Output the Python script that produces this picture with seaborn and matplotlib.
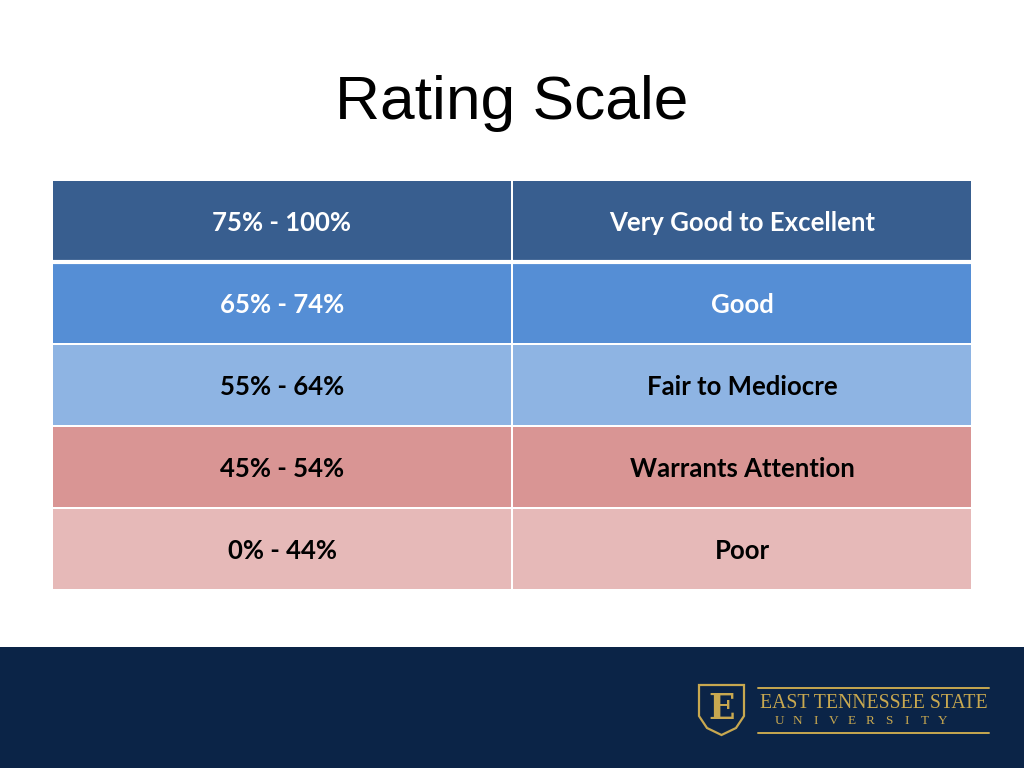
import matplotlib
matplotlib.use("Agg")

import matplotlib.pyplot as plt
import matplotlib.patches as mpatches
from matplotlib.colors import ListedColormap
import seaborn as sns
import numpy as np

# ---------------------------------------------------------------------------
# Data
# ---------------------------------------------------------------------------
title = "Rating Scale"
score_ranges = ["75% - 100%", "65% - 74%", "55% - 64%", "45% - 54%", "0% - 44%"]
ratings = ["Very Good to Excellent", "Good", "Fair to Mediocre",
           "Warrants Attention", "Poor"]
row_colors = ["#385e8f", "#558ed5", "#8eb4e3", "#d99594", "#e6b9b8"]
text_colors = ["white", "white", "black", "black", "black"]

NAVY = "#0b2447"
GOLD = "#c8a850"
SERIF = ["Liberation Serif", "DejaVu Serif"]

sns.set_theme(style="white")
plt.rcParams["font.family"] = ["Lato", "DejaVu Sans"]

fig = plt.figure(figsize=(10.24, 7.68), dpi=100)
fig.patch.set_facecolor("white")

# overlay in pixel coordinates for footer + logo
lx = fig.add_axes([0, 0, 1, 1], facecolor="none", zorder=0)
lx.set_xlim(0, 1024)
lx.set_ylim(768, 0)
lx.axis("off")
lx.add_patch(mpatches.Rectangle((0, 647), 1024, 121, facecolor=NAVY, edgecolor="none"))

fig.text(0.5, 1 - 103 / 768, title, ha="center", va="center", fontsize=44.8,
         family=["Liberation Sans", "DejaVu Sans"], color="black")

# table as heatmap
ax = fig.add_axes([52 / 1024, 1 - 590 / 768, 920 / 1024, 410 / 768], zorder=1)
n = len(score_ranges)
idx = np.repeat(np.arange(n)[:, None], 2, axis=1)
labels = np.array([[a, b] for a, b in zip(score_ranges, ratings)])
sns.heatmap(idx, cmap=ListedColormap(row_colors), vmin=-0.5, vmax=n - 0.5,
            annot=labels, fmt="", cbar=False, linewidths=1.2, linecolor="white",
            annot_kws={"fontsize": 18.5, "fontweight": "bold"},
            xticklabels=False, yticklabels=False, ax=ax)
for t in ax.texts:
    x, y = t.get_position()
    t.set_color(text_colors[int(y)])
    t.set_position((x, y + 0.025))
ax.axhline(1, color="white", linewidth=3)

# logo
shield = mpatches.Polygon([(699, 685), (744, 685), (744, 716), (736, 728), (721.5, 735),
                           (707, 728), (699, 716)], closed=True, facecolor="none",
                          edgecolor=GOLD, linewidth=1.6)
lx.add_patch(shield)
lx.text(721.5, 709, "E", ha="center", va="center", fontsize=25, fontweight="heavy",
        family=["DejaVu Serif"], color=GOLD)
lx.plot([758, 989], [688, 688], color=GOLD, linewidth=1.4)
lx.plot([758, 989], [733, 733], color=GOLD, linewidth=1.4)
lx.text(873.5, 703, "EAST TENNESSEE STATE", ha="center", va="center", fontsize=14.2,
        family=SERIF, color=GOLD)
word = "UNIVERSITY"
for i, ch in enumerate(word):
    lx.text(779 + i * (164 / (len(word) - 1)), 721, ch, ha="center", va="center",
            fontsize=9.5, family=SERIF, color=GOLD)

fig.savefig("out.png", dpi=100)
